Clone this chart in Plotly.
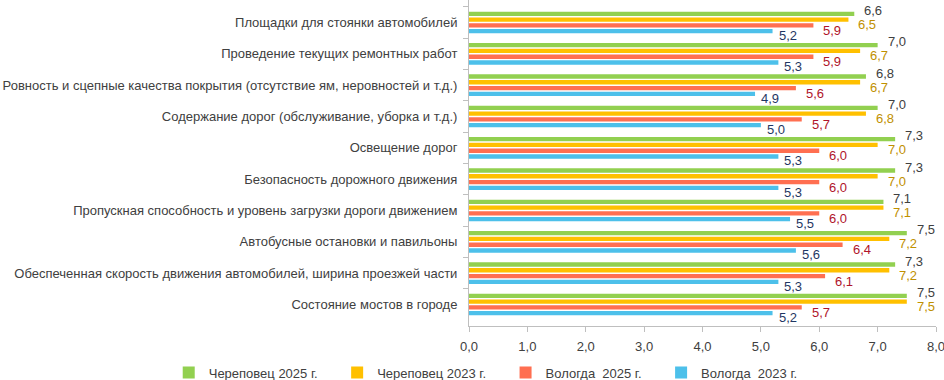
import plotly.graph_objects as go

categories = [
    "Площадки для стоянки автомобилей",
    "Проведение текущих ремонтных работ",
    "Ровность и сцепные качества покрытия (отсутствие ям, неровностей и т.д.)",
    "Содержание дорог (обслуживание, уборка и т.д.)",
    "Освещение дорог",
    "Безопасность дорожного движения",
    "Пропускная способность и уровень загрузки дороги движением",
    "Автобусные остановки и павильоны",
    "Обеспеченная скорость движения автомобилей, ширина проезжей части",
    "Состояние мостов в городе",
]
cher_2025 = [6.6, 7.0, 6.8, 7.0, 7.3, 7.3, 7.1, 7.5, 7.3, 7.5]
cher_2023 = [6.5, 6.7, 6.7, 6.8, 7.0, 7.0, 7.1, 7.2, 7.2, 7.5]
vol_2025 = [5.9, 5.9, 5.6, 5.7, 6.0, 6.0, 6.0, 6.4, 6.1, 5.7]
vol_2023 = [5.2, 5.3, 4.9, 5.0, 5.3, 5.3, 5.5, 5.6, 5.3, 5.2]
x_ticks = [0, 1, 2, 3, 4, 5, 6, 7, 8]

series = [
    ("Череповец 2025 г.", cher_2025, "#92D050", "#404040", 12, 8),
    ("Череповец 2023 г.", cher_2023, "#FFC000", "#BF9000", -2, 8),
    ("Вологда  2025 г.", vol_2025, "#FF6F51", "#B0142A", -8, 8),
    ("Вологда  2023 г.", vol_2023, "#4DC0EA", "#1F3763", -13, 4),
]

PAD = "\u00a0\u00a0\u00a0\u00a0"
FONT = "Liberation Sans, Arial, sans-serif"
fig = go.Figure()
annotations = []
for name, vals, color, tcolor, ysh, xsh in series:
    fig.add_trace(go.Bar(
        y=categories, x=vals, name=name + PAD, orientation="h",
        marker=dict(color=color, line=dict(width=0)),
    ))
    for c, v in zip(categories, vals):
        annotations.append(dict(
            x=v, y=c, xref="x", yref="y", text=f"{v:.1f}".replace(".", ","),
            showarrow=False, xanchor="left", yanchor="middle",
            xshift=xsh, yshift=ysh,
            font=dict(family=FONT, size=13, color=tcolor),
        ))

fig.update_layout(
    width=944, height=380,
    margin=dict(l=469, r=8, t=0, b=54, autoexpand=False),
    paper_bgcolor="white", plot_bgcolor="white",
    barmode="group", bargap=0.26, bargroupgap=0.25,
    separators=", ",
    font=dict(family=FONT, size=13, color="#404040"),
    annotations=annotations,
    legend=dict(
        orientation="h", xref="paper", yref="paper",
        x=-0.643, xanchor="left", y=-0.143, yanchor="middle",
        itemwidth=30,
        font=dict(family=FONT, size=13, color="#404040"),
        itemclick=False, traceorder="normal",
    ),
    showlegend=True,
)
fig.update_yaxes(
    autorange="reversed", type="category",
    showline=True, linecolor="#BFBFBF", linewidth=1,
    ticks="outside", tickson="boundaries", ticklen=5, tickcolor="#BFBFBF",
    ticklabelstandoff=8,
    showgrid=False, tickfont=dict(family=FONT, size=13, color="#404040"),
)
fig.update_xaxes(
    range=[0, 8], tickvals=x_ticks, tickformat=".1f",
    showline=True, linecolor="#BFBFBF", linewidth=1,
    ticks="outside", ticklen=5, tickcolor="#BFBFBF",
    ticklabelstandoff=3, ticklabeloverflow="allow",
    showgrid=False, zeroline=False,
    tickfont=dict(family=FONT, size=13, color="#404040"),
)

fig.write_html("out.html", config={"displayModeBar": False},
               post_script="document.body.style.margin='0px';")
